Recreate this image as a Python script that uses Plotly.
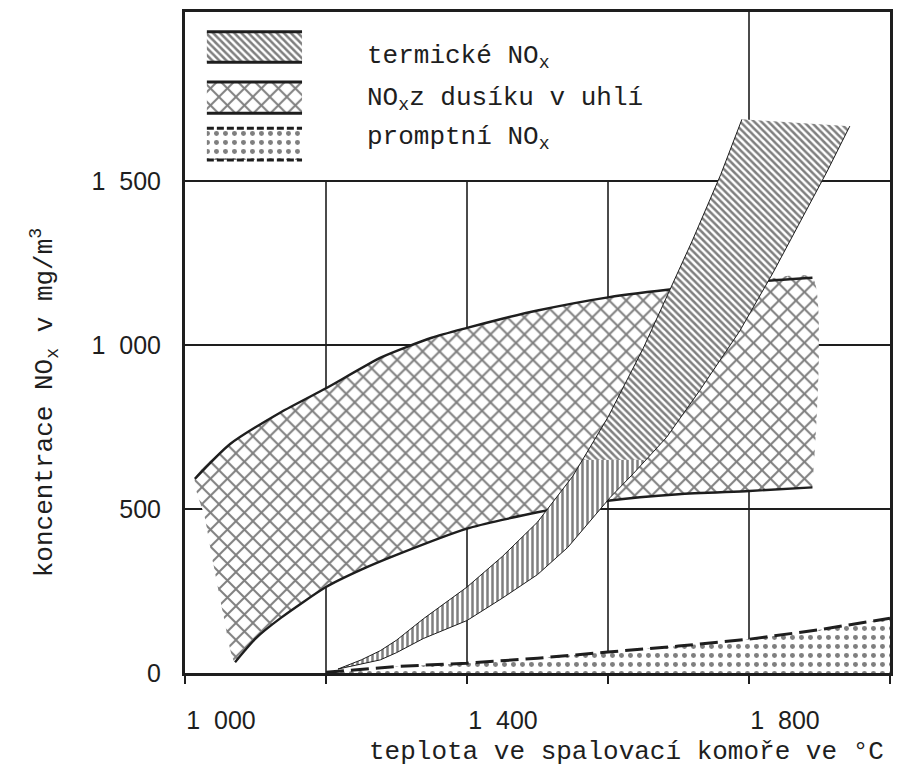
import numpy as np
import plotly.graph_objects as go

# ---------------- data ----------------
FS = "\u2007"  # figure space used as thousands separator
X_TICKS = [1000, 1200, 1400, 1600, 1800, 2000]
X_TICK_TEXT = ["1" + FS + "000", "", "1" + FS + "400", "", "1" + FS + "800", ""]
Y_TICKS = [0, 500, 1000, 1500]
Y_TICK_TEXT = ["0", "500", "1" + FS + "000", "1" + FS + "500"]

# NOx from coal nitrogen (cross-hatched band)
coal_upper_x = [1014, 1064, 1136, 1200, 1279, 1350, 1400, 1450, 1500, 1600, 1700, 1800, 1890]
coal_upper_y = [592, 698, 795, 868, 963, 1022, 1052, 1080, 1105, 1145, 1172, 1192, 1205]
coal_lower_x = [1071, 1100, 1136, 1200, 1250, 1300, 1400, 1500, 1600, 1700, 1800, 1890]
coal_lower_y = [33, 105, 168, 262, 315, 360, 440, 490, 525, 545, 555, 566]
coal_left_x = [1014, 1028, 1040, 1054, 1071]
coal_left_y = [592, 475, 335, 182, 33]

# thermal NOx (hatched band)
therm_upper_x = [1217, 1250, 1277, 1300, 1338, 1400, 1450, 1500, 1550, 1600, 1650, 1692, 1720, 1760, 1790]
therm_upper_y = [12, 40, 68, 100, 165, 262, 355, 460, 600, 780, 990, 1190, 1320, 1520, 1688]
therm_lower_x = [1217, 1277, 1300, 1338, 1400, 1450, 1500, 1543, 1603, 1636, 1683, 1730, 1787, 1834, 1870, 1911, 1943]
therm_lower_y = [12, 40, 62, 105, 160, 228, 300, 383, 535, 608, 718, 861, 1043, 1220, 1365, 1530, 1667]
THERM_HATCH_SPLIT = 650  # hatching changes from vertical to diagonal

# prompt NOx (dotted area)
prompt_x = [1200, 1250, 1300, 1400, 1500, 1600, 1700, 1800, 1900, 2000]
prompt_y = [2, 12, 20, 30, 45, 64, 82, 103, 132, 167]

# grid
GRID_X_LOW = [1200, 1400, 1600]   # end at the legend box
GRID_X_FULL = [1800]
GRID_Y = [500, 1000, 1500]
X_RANGE = [1000, 2000]
Y_RANGE = [0, 2015]

# legend
LEG_LABELS = ["termické NO<sub>x</sub>", "NO<sub>x</sub>z dusíku v uhlí", "promptní NO<sub>x</sub>"]

INK = "#1e1e1e"
PAT = "#000000"
MONO = "Liberation Mono, DejaVu Sans Mono, monospace"
SANS = "Liberation Sans, Arial, sans-serif"
TXT = 26

CROSS = dict(shape="x", size=12, solidity=0.3)
DIAG = dict(shape="\\", size=5, solidity=0.5)
VERT = dict(shape="|", size=5, solidity=0.5)
DOTS = dict(shape=".", size=9, solidity=0.24)

fig = go.Figure()

# ---- coal band ----
cx = coal_upper_x + [coal_upper_x[-1]] + coal_lower_x[::-1] + coal_left_x[::-1][1:]
cy = coal_upper_y + [coal_lower_y[-1]] + coal_lower_y[::-1] + coal_left_y[::-1][1:]
fig.add_trace(go.Scatter(x=cx, y=cy, mode="lines", fill="toself", line=dict(width=0, shape="spline", smoothing=0.6),
                         fillcolor="white", fillpattern=dict(fgcolor=PAT, bgcolor="white", **CROSS),
                         hoverinfo="skip", showlegend=False))
for xs, ys in ((coal_upper_x, coal_upper_y), (coal_lower_x, coal_lower_y)):
    fig.add_trace(go.Scatter(x=xs, y=ys, mode="lines",
                             line=dict(color=INK, width=2.4, shape="spline", smoothing=0.6),
                             hoverinfo="skip", showlegend=False))

# ---- prompt area ----
px_ = prompt_x + [prompt_x[-1], prompt_x[0]]
py_ = prompt_y + [0, 0]
fig.add_trace(go.Scatter(x=px_, y=py_, mode="lines", fill="toself", line=dict(width=0),
                         fillcolor="white", fillpattern=dict(fgcolor=PAT, bgcolor="white", **DOTS),
                         hoverinfo="skip", showlegend=False))
fig.add_trace(go.Scatter(x=prompt_x, y=prompt_y, mode="lines",
                         line=dict(color=INK, width=3, dash="18px,7px"),
                         hoverinfo="skip", showlegend=False))

# ---- thermal band (split by hatch direction) ----
ux, uy = np.array(therm_upper_x, float), np.array(therm_upper_y, float)
lx, ly = np.array(therm_lower_x, float), np.array(therm_lower_y, float)
s = THERM_HATCH_SPLIT
ux_s = float(np.interp(s, uy, ux))
lx_s = float(np.interp(s, ly, lx))
low_u = [(a, b) for a, b in zip(ux, uy) if b < s] + [(ux_s, s)]
low_l = [(a, b) for a, b in zip(lx, ly) if b < s] + [(lx_s, s)]
poly_low = low_u + low_l[::-1]
hi_u = [(ux_s, s)] + [(a, b) for a, b in zip(ux, uy) if b > s]
hi_l = [(lx_s, s)] + [(a, b) for a, b in zip(lx, ly) if b > s]
poly_hi = hi_u + hi_l[::-1]

for poly, pat in ((poly_low, VERT), (poly_hi, DIAG)):
    fig.add_trace(go.Scatter(x=[p[0] for p in poly], y=[p[1] for p in poly], mode="lines", fill="toself",
                             line=dict(width=0), fillcolor="white",
                             fillpattern=dict(fgcolor=PAT, bgcolor="white", **pat),
                             hoverinfo="skip", showlegend=False))
for xs, ys in ((therm_upper_x, therm_upper_y), (therm_lower_x, therm_lower_y)):
    fig.add_trace(go.Scatter(x=xs, y=ys, mode="lines", line=dict(color=INK, width=1),
                             hoverinfo="skip", showlegend=False))

# ---- legend (drawn on an overlay 0..1 axis pair) ----
LEG_X = [0.031, 0.166]
LEG_ROWS = [(0.924, 0.970), (0.847, 0.894), (0.776, 0.824)]
LEG_TEXT_X = 0.255
LEG_TEXT_Y = [0.932, 0.868, 0.81]
patterns = [DIAG, CROSS, DOTS]
edge_dash = ["solid", "solid", "7px,3px"]
for (y0, y1), pat, dsh in zip(LEG_ROWS, patterns, edge_dash):
    fig.add_trace(go.Scatter(x=[LEG_X[0], LEG_X[1], LEG_X[1], LEG_X[0], LEG_X[0]], y=[y0, y0, y1, y1, y0],
                             mode="lines", fill="toself", line=dict(width=0), fillcolor="white",
                             fillpattern=dict(fgcolor=PAT, bgcolor="white", **pat),
                             xaxis="x2", yaxis="y2", hoverinfo="skip", showlegend=False))
    for yy in (y0, y1):
        fig.add_trace(go.Scatter(x=LEG_X, y=[yy, yy], mode="lines", line=dict(color=INK, width=3, dash=dsh),
                                 xaxis="x2", yaxis="y2", hoverinfo="skip", showlegend=False))

annotations = []
for txt, yy in zip(LEG_LABELS, LEG_TEXT_Y):
    annotations.append(dict(text=txt, x=LEG_TEXT_X, y=yy, xref="paper", yref="paper", xanchor="left",
                            yanchor="middle", showarrow=False, font=dict(family=MONO, size=TXT, color=INK)))
annotations.append(dict(text="koncentrace NO<sub>x</sub> v mg/m<sup>3</sup>", x=-0.228, y=0.41,
                        xref="paper", yref="paper", textangle=-90, showarrow=False,
                        font=dict(family=MONO, size=TXT, color=INK)))
annotations.append(dict(text="teplota ve spalovací komoře ve °C", x=0.995, y=-0.12, xref="paper", yref="paper",
                        xanchor="right", yanchor="middle", showarrow=False,
                        font=dict(family=MONO, size=TXT, color=INK)))

# ---- grid shapes ----
shapes = []
for gx in GRID_X_LOW:
    shapes.append(dict(type="line", x0=gx, x1=gx, y0=Y_RANGE[0], y1=GRID_Y[-1], xref="x", yref="y",
                       line=dict(color=INK, width=1.6), layer="below"))
for gx in GRID_X_FULL:
    shapes.append(dict(type="line", x0=gx, x1=gx, y0=0, y1=1, xref="x", yref="y domain",
                       line=dict(color=INK, width=1.6), layer="below"))
for gy in GRID_Y:
    shapes.append(dict(type="line", x0=0, x1=1, y0=gy, y1=gy, xref="x domain", yref="y",
                       line=dict(color=INK, width=2), layer="below"))

# page body has an 8px margin -> figure is 8px smaller on each axis and margins compensate
fig.update_layout(
    width=896, height=767,
    margin=dict(l=177, r=14, t=4, b=102),
    paper_bgcolor="white", plot_bgcolor="white",
    showlegend=False,
    shapes=shapes, annotations=annotations,
    xaxis=dict(range=X_RANGE, tickvals=X_TICKS, ticktext=X_TICK_TEXT, showgrid=False, zeroline=False,
               showline=True, mirror=True, linewidth=3, linecolor=INK, automargin=False,
               ticks="outside", ticklen=8, tickwidth=1.5, tickcolor=INK,
               ticklabelshift=36, ticklabelstandoff=15,
               tickfont=dict(family=SANS, size=25, color=INK), fixedrange=True),
    yaxis=dict(range=Y_RANGE, tickvals=Y_TICKS, ticktext=Y_TICK_TEXT, showgrid=False, zeroline=False,
               showline=True, mirror=True, linewidth=3, linecolor=INK, ticks="", automargin=False,
               ticklabelstandoff=16,
               tickfont=dict(family=SANS, size=25, color=INK), fixedrange=True),
    xaxis2=dict(range=[0, 1], overlaying="x", visible=False, fixedrange=True),
    yaxis2=dict(range=[0, 1], overlaying="y", visible=False, fixedrange=True),
)

fig.write_html("out.html", config={"displayModeBar": False})
